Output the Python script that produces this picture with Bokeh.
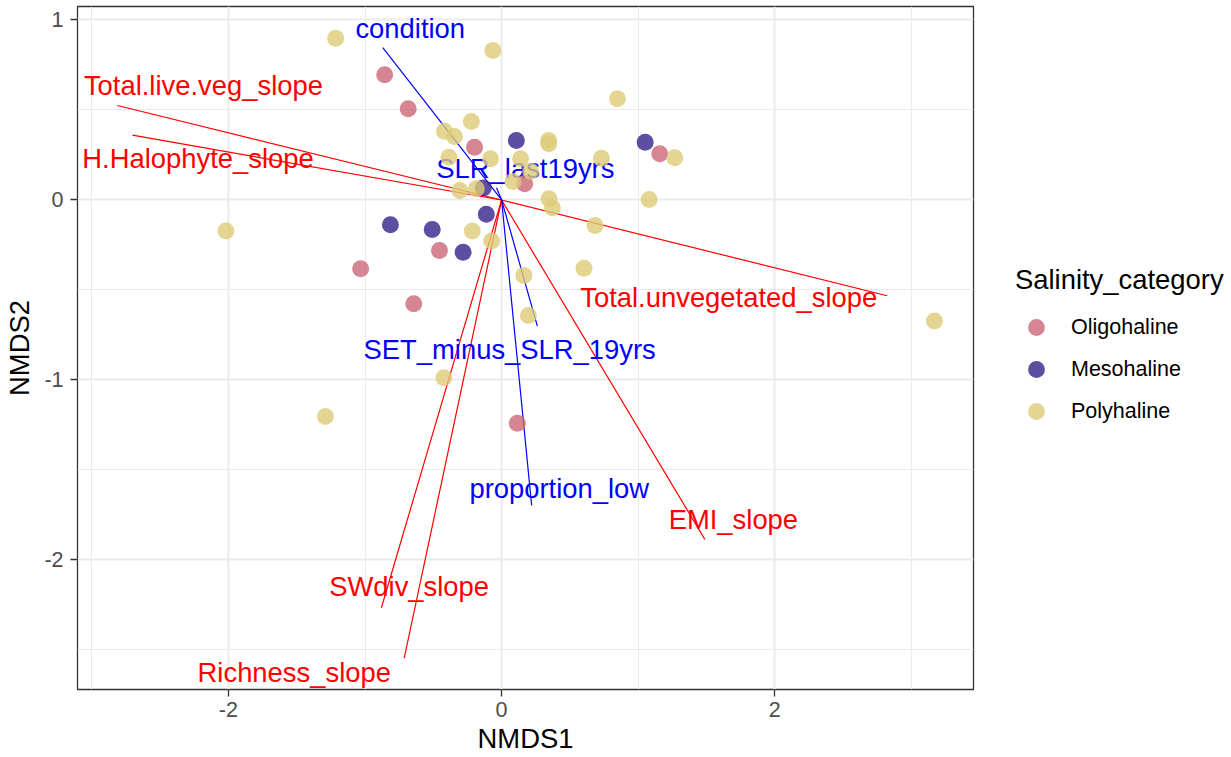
from bokeh.plotting import figure
from bokeh.layouts import row
from bokeh.models import Range1d, FixedTicker, Legend, LegendItem, ColumnDataSource
from bokeh.embed import file_html
from bokeh.resources import INLINE
from bokeh.core.properties import value

# NMDS site scores by salinity category
oligo_x = [-0.856, -0.684, -0.198, 0.169, 1.158, -0.455, -1.032, -0.643, 0.115]
oligo_y = [0.696, 0.507, 0.293, 0.090, 0.257, -0.281, -0.382, -0.577, -1.240]

meso_x = [0.108, 1.051, -0.134, -0.112, -0.814, -0.508, -0.282]
meso_y = [0.331, 0.321, 0.066, -0.079, -0.138, -0.164, -0.290]

poly_x = [-1.215, -0.064, 0.848, -0.222, -0.418, -0.345, 0.345, 0.345, 0.731, 1.268,
          -0.386, -0.081, 0.139, 0.213, 0.083, -0.306, -0.185, 0.347, 0.372, 1.080,
          0.684, -2.018, -0.215, -0.073, 0.603, 0.163, 0.196, -0.423, -1.290, 3.169]
poly_y = [0.899, 0.831, 0.562, 0.436, 0.382, 0.353, 0.331, 0.312, 0.232, 0.234,
          0.238, 0.229, 0.229, 0.160, 0.103, 0.053, 0.062, 0.007, -0.043, 0.003,
          -0.142, -0.173, -0.173, -0.228, -0.379, -0.419, -0.642, -0.988, -1.203, -0.673]

# Fitted vegetation-change vectors (red)
veg_names = ["Total.live.veg_slope", "H.Halophyte_slope", "Total.unvegetated_slope",
             "EMI_slope", "SWdiv_slope", "Richness_slope"]
veg_x = [-2.813, -2.703, 2.823, 1.488, -0.880, -0.713]
veg_y = [0.525, 0.360, -0.532, -1.886, -2.266, -2.546]
veg_lab_x = [-2.183, -2.223, 1.663, 1.697, -0.677, -1.518]
veg_lab_y = [0.638, 0.232, -0.543, -1.775, -2.146, -2.628]

# Fitted site-condition vectors (blue)
env_names = ["condition", "SLR_last19yrs", "SET_minus_SLR_19yrs", "proportion_low"]
env_x = [-0.870, -0.037, 0.262, 0.220]
env_y = [0.846, 0.068, -0.701, -1.697]
env_lab_x = [-0.669, 0.174, 0.059, 0.422]
env_lab_y = [0.953, 0.175, -0.832, -1.603]

x_ticks = [-2, 0, 2]
y_ticks = [-2, -1, 0, 1]

categories = ["Oligohaline", "Mesohaline", "Polyhaline"]
cat_colors = ["#CC6677", "#332288", "#DDCC77"]

FONT = "Liberation Sans"
BIG = "27.4px"
SMALL = "21.5px"

p = figure(width=975, height=757, output_backend="svg", toolbar_location=None,
           x_range=Range1d(-3.105, 3.455), y_range=Range1d(-2.72, 1.075),
           min_border_left=77, min_border_right=2, min_border_top=6,
           min_border_bottom=68)
p.background_fill_color = "white"
p.border_fill_color = "white"
p.outline_line_color = "#333333"
p.outline_line_width = 1.3

# axes
p.xaxis.ticker = FixedTicker(ticks=x_ticks, minor_ticks=[-3, -1, 1, 3])
p.yaxis.ticker = FixedTicker(ticks=y_ticks, minor_ticks=[-2.5, -1.5, -0.5, 0.5])
p.xaxis.major_label_overrides = {t: str(t) for t in x_ticks}
p.yaxis.major_label_overrides = {t: str(t) for t in y_ticks}
p.xaxis.axis_label = "NMDS1"
p.yaxis.axis_label = "NMDS2"
for ax in (p.xaxis, p.yaxis):
    ax.axis_line_color = None
    ax.major_tick_line_color = "#333333"
    ax.major_tick_line_width = 1.3
    ax.major_tick_out = 7
    ax.major_tick_in = 0
    ax.minor_tick_line_color = None
    ax.major_label_text_font = FONT
    ax.major_label_text_font_size = SMALL
    ax.major_label_text_color = "#4D4D4D"
    ax.axis_label_text_font = FONT
    ax.axis_label_text_font_size = BIG
    ax.axis_label_text_font_style = "normal"
    ax.axis_label_text_color = "black"
p.xaxis.major_label_standoff = 5
p.yaxis.major_label_standoff = 7
p.xaxis.axis_label_standoff = 3
p.yaxis.axis_label_standoff = 6

for g in (p.xgrid, p.ygrid):
    g.grid_line_color = "#EBEBEB"
    g.grid_line_width = 2
    g.minor_grid_line_color = "#EBEBEB"
    g.minor_grid_line_width = 1

# vectors from the origin
veg_src = ColumnDataSource(dict(x0=[0] * len(veg_x), y0=[0] * len(veg_y), x1=veg_x, y1=veg_y,
                                lx=veg_lab_x, ly=veg_lab_y, name=veg_names))
env_src = ColumnDataSource(dict(x0=[0] * len(env_x), y0=[0] * len(env_y), x1=env_x, y1=env_y,
                                lx=env_lab_x, ly=env_lab_y, name=env_names))

p.segment(x0="x0", y0="y0", x1="x1", y1="y1", source=veg_src, line_color="#FF0000", line_width=1.2)
p.segment(x0="x0", y0="y0", x1="x1", y1="y1", source=env_src, line_color="#0000FF", line_width=1.2)

p.text(x="lx", y="ly", text="name", source=veg_src, text_color="#FF0000",
       text_font=value(FONT), text_font_size=BIG, text_align="center", text_baseline="middle")
p.text(x="lx", y="ly", text="name", source=env_src, text_color="#0000FF",
       text_font=value(FONT), text_font_size=BIG, text_align="center", text_baseline="middle")

# site points
for xs, ys, col in zip((oligo_x, meso_x, poly_x), (oligo_y, meso_y, poly_y), cat_colors):
    p.scatter(xs, ys, size=17, fill_color=col, fill_alpha=0.8, line_color=None)

# legend lives in its own narrow panel to the right of the plot; the key
# renderers sit outside this panel's ranges so only their legend swatches show
leg = figure(width=256, height=757, output_backend="svg", toolbar_location=None,
             x_axis_type=None, y_axis_type=None, x_range=Range1d(100, 101), y_range=Range1d(100, 101),
             min_border=0, outline_line_color=None)
leg.xgrid.visible = False
leg.ygrid.visible = False
key_renderers = [leg.scatter(x=xs[:1], y=ys[:1], size=17, fill_color=c, fill_alpha=0.8, line_color=None)
                 for xs, ys, c in zip((oligo_x, meso_x, poly_x), (oligo_y, meso_y, poly_y), cat_colors)]

legend = Legend(items=[LegendItem(label=c, renderers=[r]) for c, r in zip(categories, key_renderers)],
                location=(40, 257), orientation="vertical",
                title="Salinity_category", title_text_font=FONT, title_text_font_size=BIG,
                title_text_font_style="normal", title_text_color="black", title_standoff=10,
                label_text_font=FONT, label_text_font_size=SMALL, label_text_color="black",
                glyph_width=42, glyph_height=42, label_height=42, spacing=0,
                label_standoff=14, padding=0, margin=0,
                border_line_color=None, background_fill_alpha=0)
leg.add_layout(legend, "center")

layout = row(p, leg, spacing=0)
html = file_html(layout, INLINE)
open("out.html", "w").write(html)
